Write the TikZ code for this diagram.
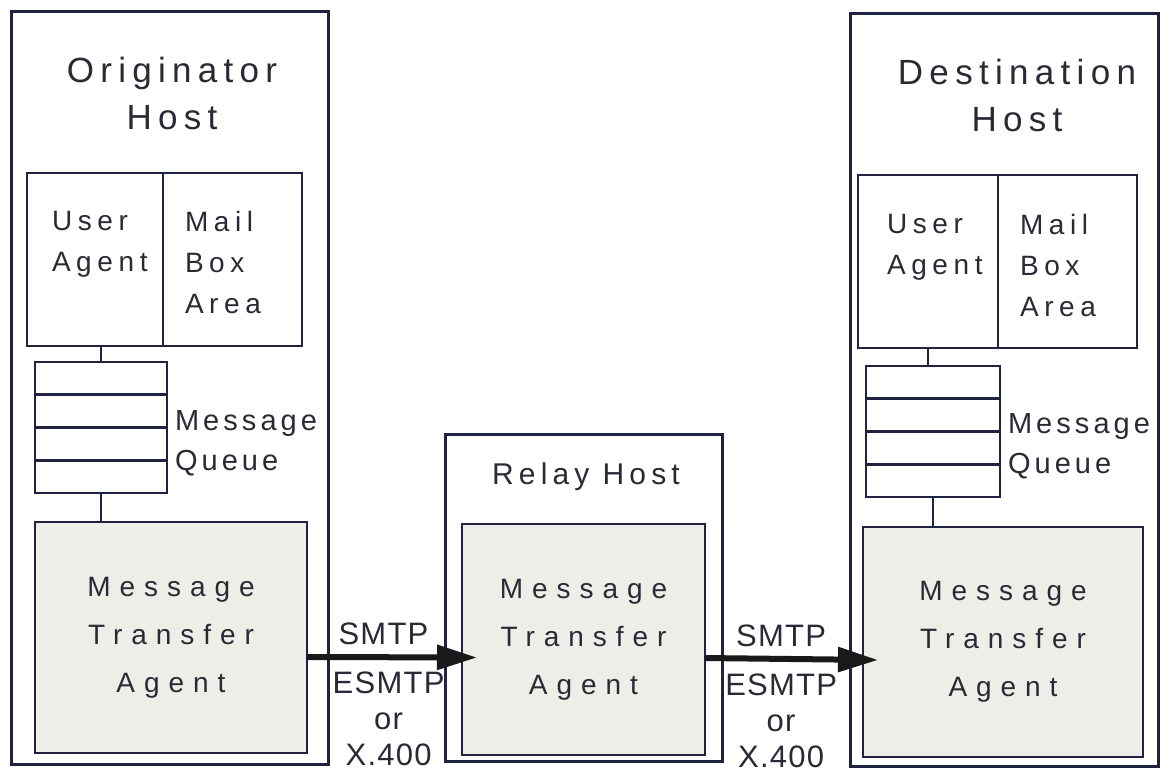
\documentclass[tikz,border=0pt]{standalone}
\usepackage{fontspec}
\setmainfont{Liberation Sans}
\usetikzlibrary{positioning, arrows.meta}
\definecolor{ink}{HTML}{1F2340}
\definecolor{txtgray}{HTML}{2A2A36}
\definecolor{mtafill}{HTML}{EEEDE8}

\begin{document}
\begin{tikzpicture}[x=1pt, y=-1pt, line width=2.6pt,
  box/.style={draw=ink, inner sep=0pt, outer sep=0pt},
  host/.style={box, line width=3pt},
  cell/.style={box, minimum height=32.75pt},
  mta/.style={box, fill=mtafill, text=txtgray, align=center,
    font=\fontsize{28}{48}\selectfont\addfontfeature{LetterSpace=32}},
  txt/.style={text=txtgray, inner sep=0pt, outer sep=0pt},
  title/.style={txt, align=center, font=\fontsize{35}{47}\selectfont\addfontfeature{LetterSpace=18}},
  lbl/.style={txt, align=left, font=\fontsize{28}{41}\selectfont\addfontfeature{LetterSpace=20}},
  qlbl/.style={txt, align=left, font=\fontsize{29}{40}\selectfont\addfontfeature{LetterSpace=14}},
  proto/.style={txt, align=center, font=\fontsize{31}{36}\selectfont\addfontfeature{LetterSpace=4}},
  conn/.style={draw=ink},
  flow/.style={draw=black!90, line width=6pt, -{Triangle[length=40pt,width=24pt]}}]
\useasboundingbox (0,0) rectangle (1171,772);

% originator host
\node[host, minimum width=317pt, minimum height=753pt] (hostO) at (169.5,387.5) {};
\node[title, below=46.5pt of hostO.north, xshift=2.5pt] (titleO) {Originator\\Host};
\node[box, minimum width=136pt, minimum height=173pt] (uaO) at (95,259.5) {};
\node[box, minimum width=139pt, minimum height=173pt] (mbO) at (232.5,259.5) {};
\node[lbl, below right=38.5pt and 25pt of uaO.north west] (uaOt) {User\\Agent};
\node[lbl, below right=38.5pt and 22pt of mbO.north west] (mbOt) {Mail\\Box\\Area};
\foreach \i in {1,...,4}
  \node[cell, minimum width=132pt] (qO\i) at (101,{362+32.75*(\i-0.5)}) {};
\node[qlbl, below right=49pt and 8pt of qO1.north east] (qOt) {Message\\Queue};
\node[mta, minimum width=272pt, minimum height=231pt] (mtaO) at (171,637.5) {Message\\Transfer\\Agent};
\draw[conn] (qO1.north) -- (qO1.north |- uaO.south);
\draw[conn] (qO4.south) -- (qO4.south |- mtaO.north);

% relay host
\node[host, minimum width=277pt, minimum height=327pt] (hostR) at (583.5,597.5) {};
\node[title, font=\fontsize{30}{36}\selectfont\addfontfeature{LetterSpace=17},
  below=29pt of hostR.north, xshift=2.5pt] (titleR) {Relay Host};
\node[mta, minimum width=243pt, minimum height=231pt] (mtaR) at (583.5,639.5) {Message\\Transfer\\Agent};

% destination host
\node[host, minimum width=308pt, minimum height=753pt] (hostD) at (1004,389.5) {};
\node[title, below=46.5pt of hostD.north, xshift=13pt] (titleD) {Destination\\Host};
\node[box, minimum width=140pt, minimum height=173pt] (uaD) at (928,261.5) {};
\node[box, minimum width=139pt, minimum height=173pt] (mbD) at (1067.5,261.5) {};
\node[lbl, below right=39.6pt and 29pt of uaD.north west] (uaDt) {User\\Agent};
\node[lbl, below right=39.6pt and 22pt of mbD.north west] (mbDt) {Mail\\Box\\Area};
\foreach \i in {1,...,4}
  \node[cell, minimum width=134pt] (qD\i) at (933,{366+32.75*(\i-0.5)}) {};
\node[qlbl, below right=48pt and 8pt of qD1.north east] (qDt) {Message\\Queue};
\node[mta, minimum width=280pt, minimum height=230pt] (mtaD) at (1003,642) {Message\\Transfer\\Agent};
\draw[conn] (uaD.south) -- (uaD.south |- qD1.north);
\draw[conn] (qD4.south) -- (qD4.south |- mtaD.north);

% transfers
\coordinate (inR) at ([xshift=15pt, yshift=-18pt]mtaR.west);
\coordinate (inD) at ([xshift=15pt, yshift=-18pt]mtaD.west);
\draw[flow] ([yshift=-19.5pt]mtaO.east) -- node[proto, pos=0.45, above=12pt] (smtp1) {SMTP}
  node[proto, pos=0.48, below=15pt, font=\fontsize{31}{36}\selectfont\addfontfeature{LetterSpace=4}] (esmtp1) {ESMTP\\or\\X.400} (inR);
\draw[flow] ([yshift=-18.5pt]mtaR.east) -- node[proto, pos=0.44, above=12pt] (smtp2) {SMTP}
  node[proto, pos=0.44, below=15pt] (esmtp2) {ESMTP\\or\\X.400} (inD);
\end{tikzpicture}
\end{document}
